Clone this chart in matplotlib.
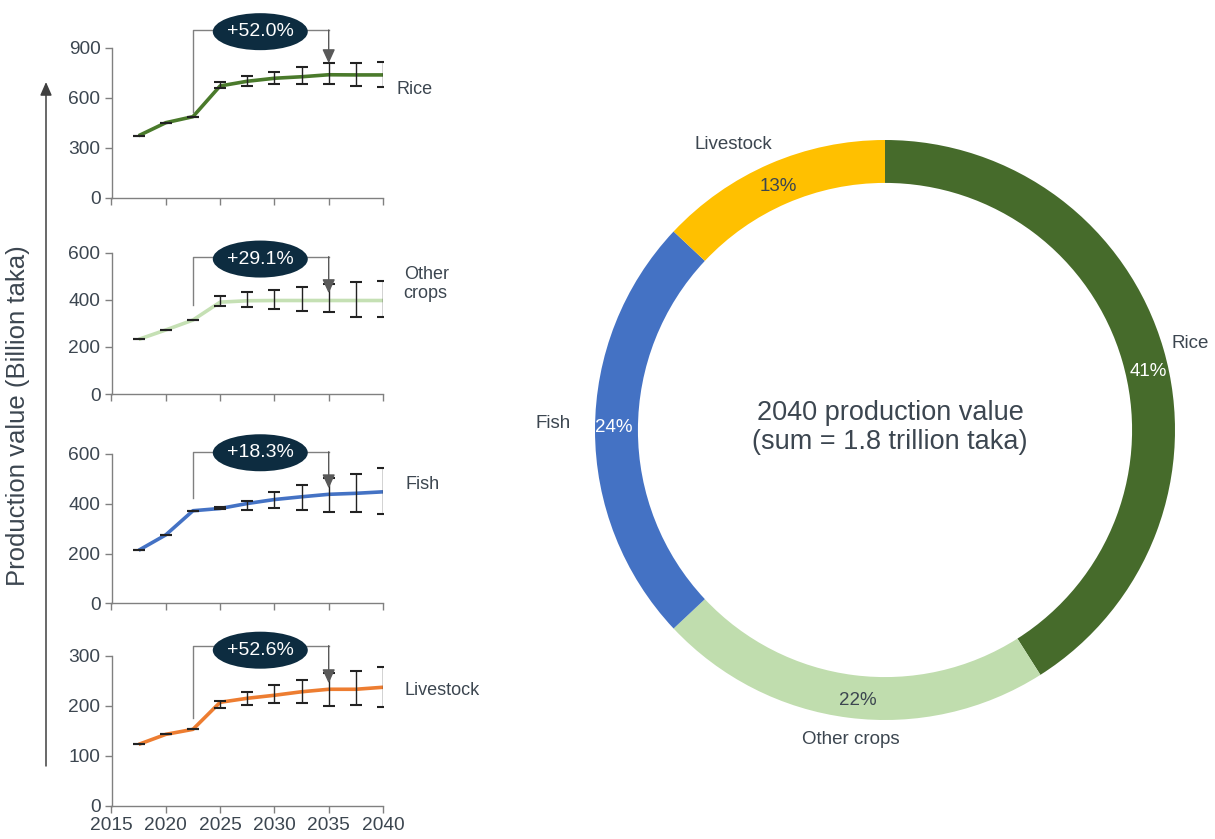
import matplotlib
matplotlib.use('Agg')
import matplotlib.pyplot as plt
from matplotlib.patches import Ellipse

plt.rcParams['font.family'] = ['Liberation Sans', 'DejaVu Sans']

# ---------------- data ----------------
years = [2017.5, 2020, 2022.5, 2025, 2027.5, 2030, 2032.5, 2035, 2037.5, 2040]

rice = [373, 451, 487, 671, 699, 717, 726, 738, 737, 737]
rice_hi = [373, 451, 487, 693, 731, 756, 786, 807, 807, 816]
rice_lo = [373, 451, 487, 657, 671, 681, 681, 681, 672, 666]

other = [232, 272, 314, 390, 396, 397, 397, 397, 397, 397]
other_hi = [232, 272, 314, 417, 432, 442, 456, 466, 477, 481]
other_lo = [232, 272, 314, 374, 371, 360, 352, 347, 328, 326]

fish = [213, 275, 372, 381, 401, 417, 428, 438, 442, 448]
fish_hi = [213, 275, 372, 385, 411, 448, 475, 502, 518, 542]
fish_lo = [213, 275, 372, 378, 374, 384, 376, 368, 365, 357]

livestock = [123, 143, 153, 207, 215, 221, 228, 233, 233, 237]
livestock_hi = [123, 143, 153, 209, 228, 241, 252, 265, 269, 277]
livestock_lo = [123, 143, 153, 195, 202, 205, 205, 200, 202, 198]

growth_labels = ['+52.0%', '+29.1%', '+18.3%', '+52.6%']
series_names = ['Rice', 'Other\ncrops', 'Fish', 'Livestock']
y_ticks = [[0, 300, 600, 900], [0, 200, 400, 600], [0, 200, 400, 600], [0, 100, 200, 300]]
x_ticks = [2015, 2020, 2025, 2030, 2035, 2040]

pie_labels = ['Rice', 'Other crops', 'Fish', 'Livestock']
pie_shares = [41, 22, 24, 13]

# ---------------- styles / layout ----------------
W, H = 1215, 839
TXT = '#3C4650'
GRAY = '#808080'
line_colors = ['#4A7A2B', '#C5E0B4', '#4472C4', '#ED7D31']
pie_colors = ['#466B2B', '#C0DDAE', '#4472C4', '#FFC000']
pct_colors = ['white', TXT, 'white', TXT]

fig = plt.figure(figsize=(W / 100, H / 100), dpi=100)

# panel pixel extents: (y pixel of 0, y pixel of top tick)
panel_px = [(198, 47.7), (394, 252.7), (603.3, 454), (806, 655.7)]
x_left, x_right = 111.5, 383
# bracket: (left start y, bracket y, arrow tip y, bubble y, label x, label y)
ann = [
    (517, 1006, 807, 996, 2041.2, 647),
    (378, 583, 428, 573, 2041.9, 467),
    (422, 609, 462, 605, 2042.1, 479),
    (175, 320, 245, 311, 2042.0, 231),
]

series = [(rice, rice_lo, rice_hi), (other, other_lo, other_hi),
          (fish, fish_lo, fish_hi), (livestock, livestock_lo, livestock_hi)]

for i, ((vals, lo, hi), (p0, ptop)) in enumerate(zip(series, panel_px)):
    ax_h = p0 - ptop
    ax = fig.add_axes([x_left / W, 1 - p0 / H, (x_right - x_left) / W, ax_h / H])
    ymax = y_ticks[i][-1]
    ax.set_xlim(2015, 2040)
    ax.set_ylim(0, ymax)
    ax.plot(years, vals, color=line_colors[i], lw=2.6, zorder=2, solid_capstyle='butt')
    yerr = [[v - l for v, l in zip(vals, lo)], [h - v for v, h in zip(vals, hi)]]
    ax.errorbar(years, vals, yerr=yerr, fmt='none', ecolor='#222222', elinewidth=1.0,
                capsize=4.4, capthick=1.5, zorder=3)
    for s in ['top', 'right']:
        ax.spines[s].set_visible(False)
    for s in ['left', 'bottom']:
        ax.spines[s].set_color(GRAY)
        ax.spines[s].set_linewidth(1.0)
    ax.set_yticks(y_ticks[i])
    ax.set_xticks(x_ticks)
    ax.tick_params(colors=GRAY, labelcolor=TXT, labelsize=13.8, length=5, width=1,
                   pad=3)
    if i < 3:
        ax.set_xticklabels([])
    ax.patch.set_alpha(0)

    ly, by, tip, bub_y, lx, lyy = ann[i]
    ax.plot([2022.5, 2022.5, 2035], [ly, by, by], color=GRAY, lw=1, clip_on=False, zorder=4)
    ax.annotate('', xy=(2035, tip), xytext=(2035, by),
                arrowprops=dict(arrowstyle='-|>,head_length=0.7,head_width=0.32',
                                color='#595959', lw=1, shrinkA=0, shrinkB=0,
                                mutation_scale=12),
                annotation_clip=False, zorder=5)
    units_per_px = ymax / ax_h
    e = Ellipse((2028.7, bub_y), width=95 * 25 / (x_right - x_left),
                height=37 * units_per_px, facecolor='#0D2C40', edgecolor='none',
                clip_on=False, zorder=6)
    ax.add_patch(e)
    ax.text(2028.7, bub_y, growth_labels[i], color='white', fontsize=14,
            ha='center', va='center', zorder=7, clip_on=False)
    ax.text(lx, lyy, series_names[i], color=TXT, fontsize=13, ha='left',
            va='center', clip_on=False, linespacing=1.15)

# y label with arrow
fig.text(18 / W, 1 - 416 / H, 'Production value (Billion taka)', rotation=90,
         fontsize=18.5, color=TXT, ha='center', va='center')
fig.add_artist(matplotlib.patches.FancyArrowPatch(
    (46 / W, 1 - 766 / H), (46 / W, 1 - 82 / H), transform=fig.transFigure,
    arrowstyle='-|>,head_length=0.8,head_width=0.35', mutation_scale=10,
    color='#404040', lw=1.1, shrinkA=0, shrinkB=0))

# ---------------- donut ----------------
cx, cy, R = 885, 430, 290
pax = fig.add_axes([(cx - R) / W, 1 - (cy + R) / H, 2 * R / W, 2 * R / H])
pax.pie(pie_shares, colors=pie_colors, startangle=90, counterclock=False,
        wedgeprops=dict(width=0.148, edgecolor='none'), radius=1)
pax.set_xlim(-1, 1)
pax.set_ylim(-1, 1)
pax.set_aspect('equal')
pax.axis('off')

pct_pos = [(0.907, 0.20), (-0.093, -0.934), (-0.934, 0.007), (-0.369, 0.838)]
lab_pos = [(1.052, 0.300), (-0.117, -1.066), (-1.145, 0.024), (-0.524, 0.983)]
for k in range(4):
    pax.text(*pct_pos[k], f'{pie_shares[k]}%', color=pct_colors[k], fontsize=13.5,
             ha='center', va='center')
    pax.text(*lab_pos[k], pie_labels[k], color=TXT, fontsize=13.5,
             ha='center', va='center', clip_on=False)

pax.text(0.018, 0.01, '2040 production value\n(sum = 1.8 trillion taka)', color=TXT,
         fontsize=19.5, ha='center', va='center', linespacing=1.15)

fig.savefig('out.png', dpi=100)
